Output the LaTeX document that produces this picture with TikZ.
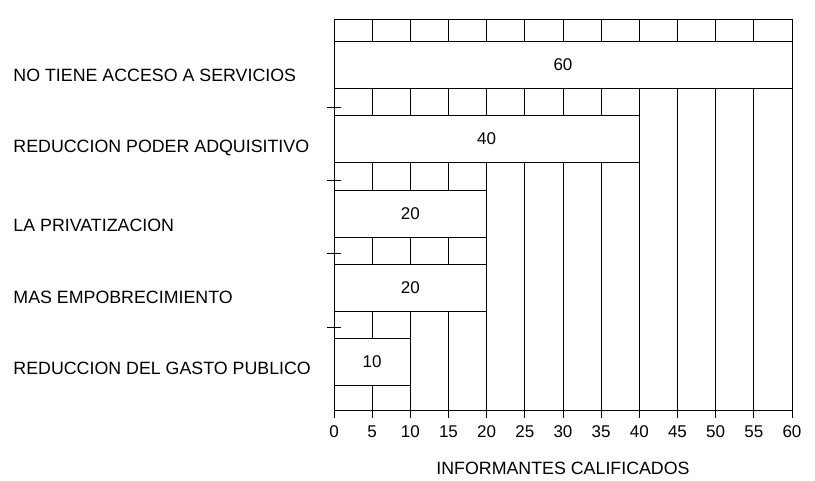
\documentclass[tikz,border=0pt]{standalone}
\usepackage{fontspec}
\setmainfont{Liberation Sans}
\usetikzlibrary{positioning}

\begin{document}
\begin{tikzpicture}[x=1pt,y=-1pt,line width=0.9pt,
  catlabel/.style={anchor=west,inner sep=0pt,font=\fontsize{17.8}{20}\selectfont},
  numlabel/.style={inner sep=1pt,font=\fontsize{17}{19}\selectfont},
  bar/.style={draw,fill=white}]
\useasboundingbox (0,0) rectangle (815,481);

% frame and grid
\draw (334,19) rectangle (792,410);
\foreach \v in {5,10,...,55}
  \draw ({334+\v*7.633},19) -- ({334+\v*7.633},410);

% bars
\foreach \v/\y/\n in {60/65/a,40/139/b,20/214/c,20/288/d,10/362/e} {
  \draw[bar] (334,{\y-23.5}) rectangle ({334+\v*7.633},{\y+23.5});
  \node[numlabel] (val\n) at ({334+\v*3.8165},\y) {\v};
}

% ticks on the value axis
\foreach \v in {0,5,...,60} {
  \coordinate (t\v) at ({334+\v*7.633},418);
  \draw ({334+\v*7.633},410) -- (t\v);
  \node[numlabel,below=6pt of t\v] (n\v) {\v};
}
% ticks on the category axis
\foreach \y in {107,180,253,327}
  \draw (327,\y) -- (341,\y);

% categories
\node[catlabel] (c1) at (13,75) {NO TIENE ACCESO A SERVICIOS};
\node[catlabel] (c2) at (13,148) {REDUCCION PODER ADQUISITIVO};
\node[catlabel] (c3) at (13,225) {LA PRIVATIZACION};
\node[catlabel] (c4) at (13,297) {MAS EMPOBRECIMIENTO};
\node[catlabel] (c5) at (13,368) {REDUCCION DEL GASTO PUBLICO};

\node[numlabel,font=\fontsize{17.8}{20}\selectfont,below=22pt of n30] (title) {INFORMANTES CALIFICADOS};
\end{tikzpicture}
\end{document}
